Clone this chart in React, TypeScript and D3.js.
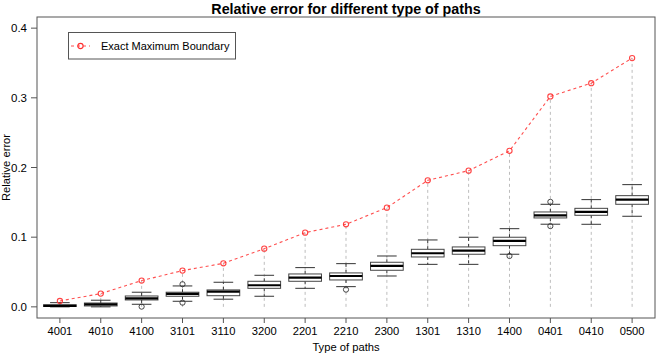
import React from "react";
import * as d3 from "d3";

const categories = ["4001","4010","4100","3101","3110","3200","2201","2210","2300","1301","1310","1400","0401","0410","0500"];
const maxBoundary = [0.0085,0.019,0.0377,0.052,0.0625,0.0835,0.1065,0.1185,0.1424,0.1816,0.1955,0.224,0.302,0.321,0.357];
const lowerWhisker = [0.0,0.0,0.0037,0.008,0.011,0.0152,0.0266,0.029,0.0443,0.061,0.061,0.0755,0.1186,0.1185,0.130];
const q1 = [0.0005,0.0013,0.0099,0.0152,0.016,0.0266,0.0367,0.0386,0.0525,0.0716,0.0755,0.0878,0.1276,0.1314,0.1472];
const median = [0.0015,0.0035,0.0123,0.0185,0.0218,0.031,0.042,0.0443,0.0587,0.0769,0.0807,0.0946,0.1314,0.1362,0.1539];
const q3 = [0.003,0.0055,0.0156,0.021,0.0243,0.0367,0.0472,0.0487,0.064,0.0826,0.086,0.0999,0.1362,0.1414,0.1596];
const upperWhisker = [0.006,0.0095,0.021,0.030,0.0353,0.0453,0.0563,0.062,0.073,0.096,0.0999,0.1122,0.1472,0.1539,0.1754];
const outliers: [number, number][] = [[2,0.0003],[3,0.0325],[3,0.006],[7,0.0247],[11,0.073],[12,0.1507],[12,0.1159]];
const yTicks = [0, 0.1, 0.2, 0.3, 0.4];
const legendLabel = "Exact Maximum Boundary";

const W = 664, H = 354;
const L = 37, R = 655, T = 17, B = 318;
const font = "'Liberation Sans', Arial, Helvetica, sans-serif";

export default function App() {
  const x = d3.scaleLinear().domain([0.44, 15.56]).range([L, R]);
  const y = d3.scaleLinear().domain([-0.016, 0.416]).range([B, T]);
  const bw = (x(1) - x(0)) * 0.8;
  const cw = bw * 0.6;
  const line = d3.line<number>().x((_, i) => x(i + 1)).y((d) => y(d));
  const red = "#ff3030";

  return (
    <div style={{ position: "absolute", left: 0, top: 0 }}>
      <svg width={W} height={H} style={{ display: "block", background: "#fff" }} fontFamily={font}>
        <text x={(L + R) / 2} y={13.5} textAnchor="middle" fontWeight="bold" fontSize={14.3}>Relative error for different type of paths</text>
        {/* drop lines */}
        {maxBoundary.map((v, i) => (
          <line key={"d" + i} x1={x(i + 1)} x2={x(i + 1)} y1={y(0)} y2={y(v)} stroke="#bdbdbd" strokeDasharray="3,3" strokeWidth={1} />
        ))}
        {/* boxes */}
        {categories.map((c, i) => {
          const cx = x(i + 1);
          return (
            <g key={"b" + i}>
              <line x1={cx} x2={cx} y1={y(q3[i])} y2={y(upperWhisker[i])} stroke="#333" strokeDasharray="3,3" />
              <line x1={cx} x2={cx} y1={y(q1[i])} y2={y(lowerWhisker[i])} stroke="#333" strokeDasharray="3,3" />
              <line x1={cx - cw / 2} x2={cx + cw / 2} y1={y(upperWhisker[i])} y2={y(upperWhisker[i])} stroke="#333" />
              <line x1={cx - cw / 2} x2={cx + cw / 2} y1={y(lowerWhisker[i])} y2={y(lowerWhisker[i])} stroke="#333" />
              <rect x={cx - bw / 2} y={y(q3[i])} width={bw} height={Math.max(0.5, y(q1[i]) - y(q3[i]))} fill="#fff" stroke="#444" strokeWidth={1} />
              <line x1={cx - bw / 2} x2={cx + bw / 2} y1={y(median[i])} y2={y(median[i])} stroke="#000" strokeWidth={2.2} />
            </g>
          );
        })}
        {outliers.map(([i, v], k) => (
          <circle key={"o" + k} cx={x(i + 1)} cy={y(v)} r={2.6} fill="none" stroke="#333" strokeWidth={0.9} />
        ))}
        {/* max boundary */}
        <path d={line(maxBoundary) || ""} fill="none" stroke={red} strokeOpacity={0.85} strokeDasharray="3,3" strokeWidth={1.1} />
        {maxBoundary.map((v, i) => (
          <circle key={"m" + i} cx={x(i + 1)} cy={y(v)} r={2.6} fill="none" stroke={red} strokeOpacity={0.9} strokeWidth={1.1} />
        ))}
        {/* frame */}
        <rect x={L} y={T} width={R - L} height={B - T} fill="none" stroke="#555" strokeWidth={1} />
        {/* y axis */}
        {yTicks.map((t) => (
          <g key={"y" + t}>
            <line x1={L - 6} x2={L} y1={y(t)} y2={y(t)} stroke="#555" />
            <text x={L - 10} y={y(t) + 4} textAnchor="end" fontSize={11.5}>{t.toFixed(1)}</text>
          </g>
        ))}
        {/* x axis */}
        {categories.map((c, i) => (
          <g key={"x" + i}>
            <line x1={x(i + 1)} x2={x(i + 1)} y1={B} y2={B + 5} stroke="#555" />
            <text x={x(i + 1)} y={335} textAnchor="middle" fontSize={11.2}>{c}</text>
          </g>
        ))}
        <text x={(L + R) / 2} y={351} textAnchor="middle" fontSize={11.2}>Type of paths</text>
        <text transform={`translate(${9.5},${(T + B) / 2}) rotate(-90)`} textAnchor="middle" fontSize={11.2}>Relative error</text>
        {/* legend */}
        <rect x={68.5} y={32.5} width={167} height={26.5} fill="#fff" stroke="#555" />
        <line x1={71} x2={90} y1={46} y2={46} stroke={red} strokeOpacity={0.85} strokeDasharray="3,3" strokeWidth={1.1} />
        <circle cx={80.5} cy={46} r={2.6} fill="none" stroke={red} strokeWidth={1.1} />
        <text x={101} y={50} fontSize={11}>{legendLabel}</text>
      </svg>
    </div>
  );
}
